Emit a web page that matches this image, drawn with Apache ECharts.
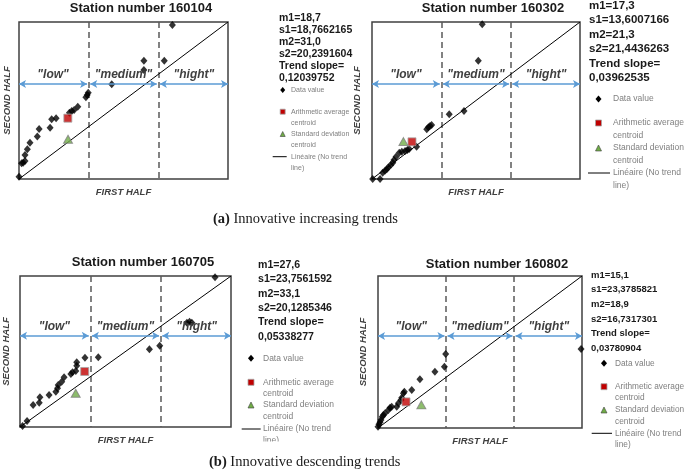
<!DOCTYPE html>
<html><head><meta charset="utf-8">
<script src="https://cdn.jsdelivr.net/npm/echarts@6/dist/echarts.min.js"></script>
<style>html,body{margin:0;padding:0;background:#fff}#c{width:685px;height:471px}</style>
</head><body><div id="c"></div>
<script>
// ---- data ----
const stationTitles = ['Station number 160104','Station number 160302','Station number 160705','Station number 160802'];
const axisMax = [80, 90, 90, 110];
const zoneNames = ['"low"', '"medium"', '"hight"'];
const st160104 = [[0,1.2],[1.0,8.0],[1.6,8.3],[2.3,9.2],[2.3,12.2],[3.2,15.1],[4.2,18.5],[7.0,21.6],[7.7,25.5],[11.9,26.1],[12.5,30.4],[14.2,30.9],[19.3,33.8],[20.2,34.6],[21.1,35.2],[22.5,36.8],[25.6,41.6],[26.1,42.8],[26.5,44.0],[35.5,48.3],[47.8,55.5],[47.8,60.3],[55.6,60.3],[58.7,78.5]];
const st160302 = [[0.3,0],[3.5,0],[4.6,3.6],[5.6,4.8],[6.4,5.6],[7.1,6.7],[8.1,8.0],[9.0,9.3],[9.5,10.9],[10.4,12.8],[11.8,15.1],[12.9,15.6],[14.3,16.1],[15.3,16.6],[16.1,17.2],[19.3,18.5],[23.7,28.5],[24.4,29.6],[25.1,30.4],[25.8,31.0],[33.4,37.1],[39.8,39.0],[46.0,67.8],[47.7,88.7]];
const st160705 = [[1.1,0.6],[3.0,3.6],[5.6,13.1],[8.2,14.5],[8.5,17.7],[12.4,19.1],[15.3,21.0],[16.0,23.1],[16.3,25.0],[17.8,27.0],[18.8,29.6],[21.7,31.6],[22.4,32.6],[23.8,33.4],[24.2,36.5],[24.2,38.6],[27.7,41.3],[33.4,41.5],[55.2,46.3],[59.6,48.5],[71.2,62.2],[72.3,62.8],[73.3,62.2],[83.2,89.2]];
const st160802 = [[0,0.9],[0.5,2.7],[1.1,4.1],[1.6,5.8],[2.3,8.2],[2.9,9.4],[3.8,10.6],[5.6,13.0],[6.5,14.7],[7.4,15.4],[10.1,15.4],[11.0,17.9],[12.4,20.3],[12.8,21.9],[13.7,25.1],[14.2,26.3],[18.2,27.5],[22.6,35.2],[30.7,40.7],[35.8,44.4],[36.5,53.6],[109.5,57.2]];
const m1 = [18.7, 17.3, 27.6, 15.1];
const m2 = [31.0, 21.3, 33.1, 18.9];
const s1 = [18.7662165, 13.6007166, 23.7561592, 23.3785821];
const s2 = [20.2391604, 21.4436263, 20.1285346, 16.7317301];
const statTexts = [
  ['m1=18,7','s1=18,7662165','m2=31,0','s2=20,2391604','Trend slope=','0,12039752'],
  ['m1=17,3','s1=13,6007166','m2=21,3','s2=21,4436263','Trend slope=','0,03962535'],
  ['m1=27,6','s1=23,7561592','m2=33,1','s2=20,1285346','Trend slope=','0,05338277'],
  ['m1=15,1','s1=23,3785821','m2=18,9','s2=16,7317301','Trend slope=','0,03780904']
];
const legendTexts = [['Data value'],['Arithmetic average','centroid'],['Standard deviation','centroid'],['Linéaire (No trend','line)']];
const captions = [['(a)',' Innovative increasing trends'],['(b)',' Innovative descending trends']];
const stations = [st160104, st160302, st160705, st160802];

// ---- layout (positions / sizes) ----
const L = [
  {grid:{left:19,top:22,width:209,height:157}, title:[141,8], stats:{x:279,y:18.3,step:12,size:10.5}, leg:{mx:282.7,tx:291,size:7,rows:[90,111.7,134,156.7],sub:11.3,line:[272.7,286.7],ms:5}, yGap:7},
  {grid:{left:372,top:22,width:208,height:157}, title:[493,8], stats:{x:589,y:5.5,step:14.5,size:11.5}, leg:{mx:598.5,tx:613,size:8.5,rows:[99,123,148,173],sub:12.5,line:[588,610],ms:6}, yGap:10},
  {grid:{left:19,top:276,width:212,height:151}, title:[143,262.7], stats:{x:258,y:265,step:14.35,size:10.6}, leg:{mx:251,tx:263,size:8.5,rows:[358.3,382.3,405,429],sub:11.3,line:[241.7,260.7],ms:6}, yGap:9},
  {grid:{left:378,top:276,width:204,height:152}, title:[497,264], stats:{x:591,y:275,step:14.7,size:9.5}, leg:{mx:604,tx:615,size:8.3,rows:[363.3,386.7,410,433.3],sub:11.3,line:[591.7,612],ms:6}, yGap:10}
];
const captionPos = [[213,219.3],[209,462]];
const SANS = '"Liberation Sans", Arial, sans-serif';
const ARROW_LEVEL = 0.605;

const chart = echarts.init(document.getElementById('c'));
const grids = [], xAxes = [], yAxes = [], series = [], graphic = [];
const nameStyle = {fontFamily:SANS, fontWeight:'bold', fontStyle:'italic', fontSize:9.5, color:'#404040'};

L.forEach((lay, i) => {
  const mx = axisMax[i];
  grids.push(Object.assign({show:true, borderColor:'#404040', borderWidth:1.5, backgroundColor:'transparent'}, lay.grid));
  xAxes.push({gridIndex:i, type:'value', min:0, max:mx, interval:mx/3,
    name:'FIRST HALF', nameLocation:'middle', nameGap:8, nameTextStyle:nameStyle,
    axisLine:{show:false}, axisTick:{show:false}, axisLabel:{show:false},
    splitLine:{show:true, showMinLine:false, showMaxLine:false, lineStyle:{color:'#595959', width:1.5, type:[6,4]}}});
  yAxes.push({gridIndex:i, type:'value', min:0, max:mx,
    name:'SECOND HALF', nameLocation:'middle', nameGap:lay.yGap, nameRotate:90, nameTextStyle:nameStyle,
    axisLine:{show:false}, axisTick:{show:false}, axisLabel:{show:false}, splitLine:{show:false}});
  const lvl = mx * ARROW_LEVEL;
  series.push({type:'line', name:'Linéaire (No trend line)', xAxisIndex:i, yAxisIndex:i,
    data:[[0,0],[mx,mx]], symbol:'none', lineStyle:{color:'#000', width:1}, z:2,
    markLine:{silent:true, symbol:['arrow','arrow'], symbolSize:[6,7],
      lineStyle:{color:'#5b9bd5', width:1.5, type:'solid'},
      label:{show:true, position:'insideMiddleTop', distance:3, formatter:p=>p.name,
        fontFamily:SANS, fontWeight:'bold', fontStyle:'italic', fontSize:12, color:'#404040'},
      data:[0,1,2].map(k => [{coord:[mx*k/3 + (k?0.6*mx/80:0), lvl], name:zoneNames[k]},{coord:[mx*(k+1)/3 - (k<2?0.6*mx/80:0), lvl]}])}});
  series.push({type:'scatter', name:'Data value', xAxisIndex:i, yAxisIndex:i, data:stations[i],
    symbol:'diamond', symbolSize:[7,8], itemStyle:{color:'#000'}, z:4});
  series.push({type:'scatter', name:'Arithmetic average centroid', xAxisIndex:i, yAxisIndex:i, data:[[m1[i], m2[i]]],
    symbol:'rect', symbolSize:8, itemStyle:{color:'#c00000', borderColor:'#a6a6a6', borderWidth:1}, z:5});
  series.push({type:'scatter', name:'Standard deviation centroid', xAxisIndex:i, yAxisIndex:i, data:[[s1[i], s2[i]]],
    symbol:'triangle', symbolSize:[9,8], itemStyle:{color:'#70ad47', borderColor:'#7f7f7f', borderWidth:1}, z:5});

  // station title
  graphic.push({type:'text', x:lay.title[0], y:lay.title[1], silent:true,
    style:{text:stationTitles[i], font:'bold 13px '+SANS, fill:'#1a1a1a', align:'center', verticalAlign:'middle'}});
  // stats
  statTexts[i].forEach((t, k) => graphic.push({type:'text', x:lay.stats.x, y:lay.stats.y + k*lay.stats.step, silent:true,
    style:{text:t, font:'bold '+lay.stats.size+'px '+SANS, fill:'#1a1a1a', align:'left', verticalAlign:'middle'}}));
  // legend
  const lg = lay.leg, h = lg.ms/2;
  legendTexts.forEach((lines, r) => lines.forEach((t, k) => graphic.push({type:'text', x:lg.tx, y:lg.rows[r] + k*lg.sub, silent:true,
    style:{text:t, font:lg.size+'px '+SANS, fill:'#7f7f7f', align:'left', verticalAlign:'middle'}})));
  let y0 = lg.rows[0];
  graphic.push({type:'polygon', silent:true, shape:{points:[[lg.mx,y0-h-0.5],[lg.mx+h,y0],[lg.mx,y0+h+0.5],[lg.mx-h,y0]]}, style:{fill:'#000'}});
  y0 = lg.rows[1];
  graphic.push({type:'rect', silent:true, shape:{x:lg.mx-h, y:y0-h, width:lg.ms, height:lg.ms}, style:{fill:'#c00000', stroke:'#a6a6a6', lineWidth:0.8}});
  y0 = lg.rows[2];
  graphic.push({type:'polygon', silent:true, shape:{points:[[lg.mx,y0-h],[lg.mx+h,y0+h],[lg.mx-h,y0+h]]}, style:{fill:'#70ad47', stroke:'#404040', lineWidth:0.6}});
  y0 = lg.rows[3];
  graphic.push({type:'line', silent:true, shape:{x1:lg.line[0], y1:y0, x2:lg.line[1], y2:y0}, style:{stroke:'#000', lineWidth:1}});
});

// clip of the bottom-left panel's legend
graphic.push({type:'rect', silent:true, z:100, shape:{x:236, y:441.5, width:110, height:10}, style:{fill:'#fff'}});

captions.forEach((c, i) => graphic.push({type:'text', x:captionPos[i][0], y:captionPos[i][1], silent:true,
  style:{text:'{b|'+c[0]+'}'+c[1], font:'14.5px "Liberation Serif", "Times New Roman", serif', fill:'#1a1a1a', verticalAlign:'middle', align:'left',
    rich:{b:{fontWeight:'bold', fontSize:14.5, fontFamily:'"Liberation Serif", serif', fill:'#1a1a1a'}}}}));

chart.setOption({animation:false, backgroundColor:'#fff', grid:grids, xAxis:xAxes, yAxis:yAxes, series:series, graphic:graphic});
</script></body></html>
